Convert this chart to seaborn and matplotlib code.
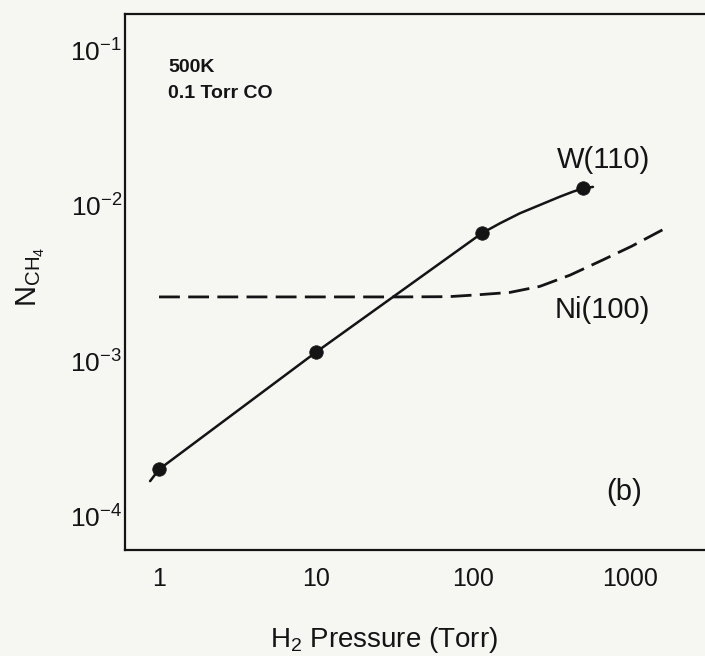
import matplotlib
matplotlib.use("Agg")
import numpy as np
import pandas as pd
import seaborn as sns
import matplotlib.pyplot as plt
from matplotlib.ticker import FixedLocator, FixedFormatter, NullLocator

# ---- data ----
w_pressure = [1, 10, 113.6, 504]
w_nch4 = [2.0e-4, 1.14e-3, 6.66e-3, 1.30e-2]
w_curve_pressure = [0.877, 1, 10, 113.6, 148.6, 199, 267, 358, 433, 504, 581]
w_curve_nch4 = [1.68e-4, 2.0e-4, 1.14e-3, 6.66e-3, 7.73e-3, 8.97e-3, 1.015e-2,
                1.148e-2, 1.236e-2, 1.30e-2, 1.327e-2]
ni_pressure = [1, 34, 70, 105.6, 172, 267, 415, 660, 1025, 1479, 1670]
ni_nch4 = [2.59e-3, 2.59e-3, 2.60e-3, 2.67e-3, 2.77e-3, 3.03e-3, 3.58e-3,
           4.45e-3, 5.50e-3, 6.70e-3, 7.15e-3]
x_ticks = [1, 10, 100, 1000]
x_ticklabels = ["1", "10", "100", "1000"]
y_ticks = [1e-4, 1e-3, 1e-2, 1e-1]
y_ticklabels = [r"$\mathregular{10^{-4}}$", r"$\mathregular{10^{-3}}$",
                r"$\mathregular{10^{-2}}$", r"$\mathregular{10^{-1}}$"]

sns.set_theme(style="white")
plt.rcParams["font.family"] = ["Liberation Sans", "DejaVu Sans"]
plt.rcParams["mathtext.fontset"] = "custom"
plt.rcParams["mathtext.rm"] = "Liberation Sans"
plt.rcParams["mathtext.it"] = "Liberation Sans:italic"
plt.rcParams["mathtext.bf"] = "Liberation Sans:bold"

bg = "#f6f6f3"
ink = "#141414"
W, H = 705, 656
fig = plt.figure(figsize=(W / 100, H / 100), dpi=100, facecolor=bg)
ax = fig.add_axes([125 / W, (H - 550) / H, 580 / W, 536 / H])
ax.set_facecolor(bg)

ax.set_xscale("log")
ax.set_yscale("log")

sns.lineplot(x=w_curve_pressure, y=w_curve_nch4, sort=False, estimator=None,
             color=ink, lw=1.8, ax=ax)
sns.scatterplot(x=w_pressure, y=w_nch4, color=ink, s=95, edgecolor=ink,
                linewidth=0.5, ax=ax, zorder=5)
sns.lineplot(x=ni_pressure, y=ni_nch4, sort=False, estimator=None,
             color=ink, lw=2.0, ax=ax)
ax.lines[-1].set_dashes((7.5, 3))

ax.set_xlim(0.607, 3005)
ax.set_ylim(6.04e-5, 0.173)

ax.xaxis.set_major_locator(FixedLocator(x_ticks))
ax.xaxis.set_major_formatter(FixedFormatter(x_ticklabels))
ax.yaxis.set_major_locator(FixedLocator(y_ticks))
ax.yaxis.set_major_formatter(FixedFormatter(y_ticklabels))
ax.xaxis.set_minor_locator(NullLocator())
ax.yaxis.set_minor_locator(NullLocator())

ax.tick_params(axis="both", which="major", direction="in", length=14,
               width=1.5, color=ink, labelcolor=ink, labelsize=18)
ax.tick_params(axis="x", pad=12)
ax.tick_params(axis="y", pad=2, labelsize=19)

for side in ["left", "bottom", "top"]:
    ax.spines[side].set_color(ink)
    ax.spines[side].set_linewidth(1.6)
ax.spines["right"].set_visible(False)

ax.set_xlabel(r"H$_\mathregular{2}$ Pressure (Torr)", fontsize=20, color=ink)
ax.xaxis.set_label_coords(259 / 580, -0.14)
ax.set_ylabel(r"N$_\mathregular{CH_4}$", fontsize=21, color=ink)
ax.yaxis.set_label_coords(-0.135, 0.51)

ax.text(0.074, 0.901, "500K", transform=ax.transAxes, fontsize=14,
        fontweight="bold", color=ink, va="center", ha="left")
ax.text(0.074, 0.851, "0.1 Torr CO", transform=ax.transAxes, fontsize=14,
        fontweight="bold", color=ink, va="center", ha="left")
ax.text(0.745, 0.728, "W(110)", transform=ax.transAxes, fontsize=21,
        color=ink, va="center", ha="left")
ax.text(0.741, 0.448, "Ni(100)", transform=ax.transAxes, fontsize=21,
        color=ink, va="center", ha="left")
ax.text(0.829, 0.108, "(b)", transform=ax.transAxes, fontsize=21,
        color=ink, va="center", ha="left")

fig.savefig("out.png", dpi=100, facecolor=bg)
